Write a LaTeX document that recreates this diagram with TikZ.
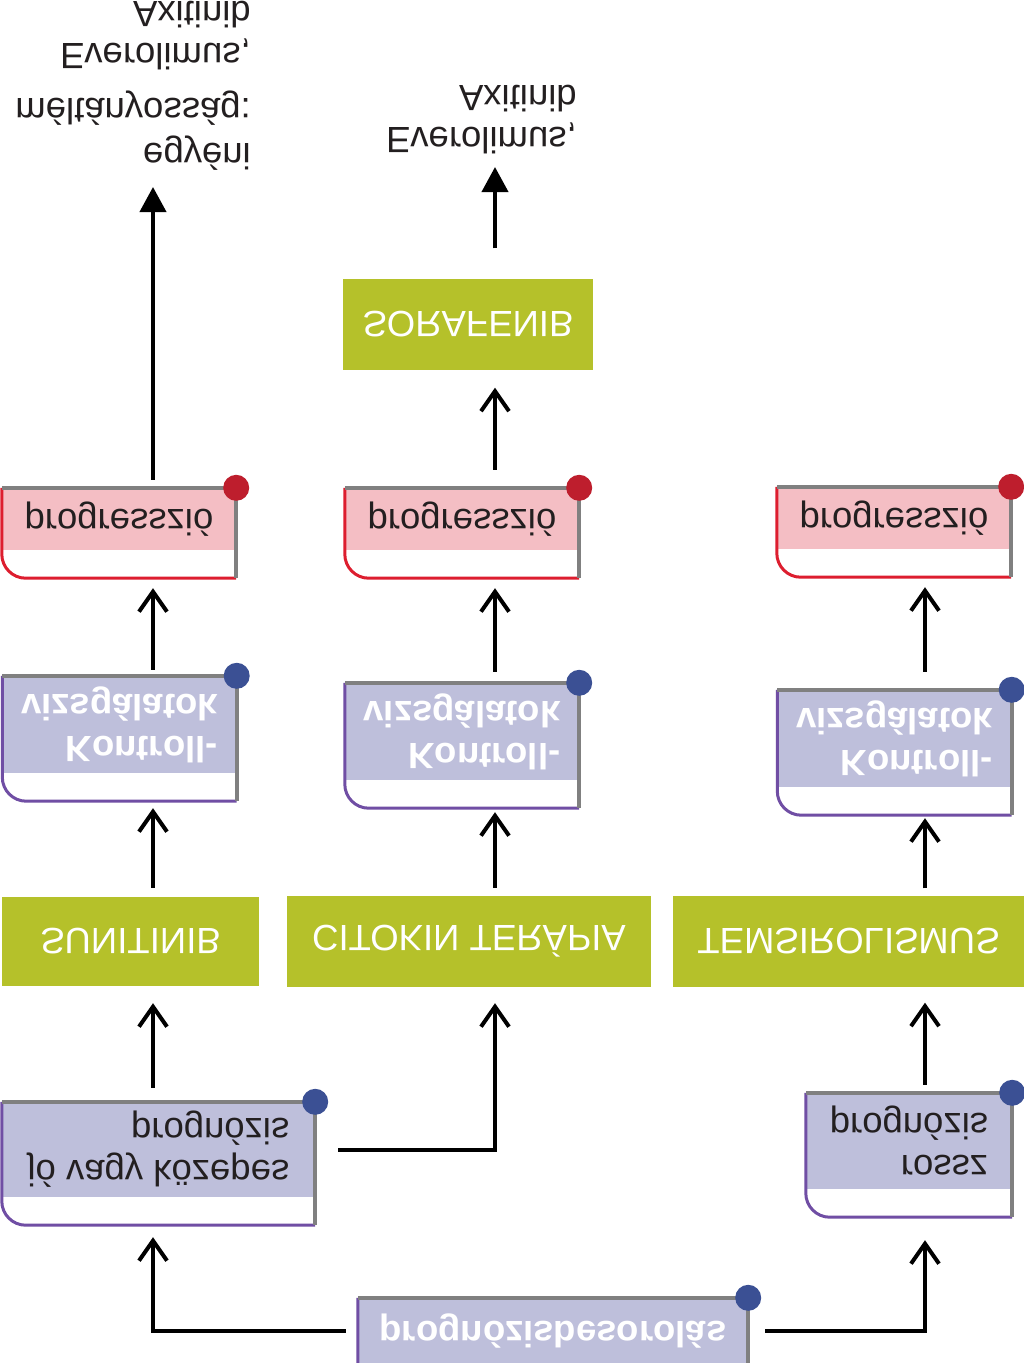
\documentclass[tikz,border=0pt]{standalone}
\usepackage{fontspec}
\setmainfont{Liberation Sans}
\usetikzlibrary{arrows.meta,calc}

\definecolor{drugfill}{RGB}{181,193,42}
\definecolor{tabpink}{RGB}{244,190,196}
\definecolor{tablav}{RGB}{190,191,219}
\definecolor{lred}{RGB}{221,30,47}
\definecolor{lviolet}{RGB}{112,78,164}
\definecolor{dred}{RGB}{190,30,45}
\definecolor{dblue}{RGB}{59,80,148}
\definecolor{shadegray}{RGB}{128,128,128}
\definecolor{ink}{RGB}{35,31,32}

\begin{document}
\begin{tikzpicture}[
  x=1pt, y=1pt, yscale=-1, transform shape,
  every node/.style={font=\fontsize{36.5}{42}\selectfont, inner sep=0pt, text=ink},
  drug/.style={fill=drugfill, text=white, minimum height=91pt},
  tab/.style={align=right, minimum width=234pt},
  progtab/.style={tab, fill=tabpink, minimum height=62pt},
  ctrltab/.style={tab, fill=tablav, text=white, minimum height=97pt,
    font=\fontsize{36.5}{42}\selectfont\bfseries},
  progntab/.style={tab, fill=tablav},
  note/.style={align=right, anchor=north east},
  arr/.style={line width=4pt, -{Straight Barb[length=20pt, width=28pt]}},
  lead/.style={line width=4pt, -{Triangle[length=25pt, width=26pt]}},
  edge/.style={line width=3pt, rounded corners=24pt},
  shade/.style={line width=4pt, shadegray}
]
\useasboundingbox (0,0) rectangle (1024,1363);
\fill[white] (0,0) rectangle (1024,1363);
\clip (0,0) rectangle (1024,1363);

\coordinate (colA) at (153,0);
\coordinate (colB) at (495,0);
\coordinate (colC) at (925,0);

\node[progntab, minimum width=390pt, minimum height=65pt, text=white,
  font=\fontsize{36.5}{42}\selectfont\bfseries] (start) at (553,1330.5) {prognózisbesorolás};
\node[progntab, minimum width=313pt, minimum height=95pt] (good) at (158.5,1149.5) {jó vagy közepes\\prognózis};
\node[progntab, minimum width=206pt, minimum height=96pt] (bad) at (909,1141) {rossz\\prognózis};

\node[drug, minimum width=257pt, minimum height=89pt] (sun) at (130.5,941.5) {SUNITINIB};
\node[drug, minimum width=364pt] (cit) at (469,941.5) {CITOKIN TERÁPIA};
\node[drug, minimum width=351pt] (tem) at (848.5,941) {TEMSIROLISMUS};

\node[ctrltab] (k1) at (119.5,724.5) {Kontroll-\\vizsgálatok};
\node[ctrltab] (k2) at (462,731.5) {Kontroll-\\vizsgálatok};
\node[ctrltab] (k3) at (894.5,738.5) {Kontroll-\\vizsgálatok};

\node[progtab] (p1) at (119,519) {progresszió};
\node[progtab] (p2) at (462,519) {progresszió};
\node[progtab] (p3) at (894,518) {progresszió};

\node[drug, minimum width=250pt] (sor) at (468,324) {SORAFENIB};

\node[note] (indiv) at (251,171) {egyéni\\[3pt]méltányosság:\\[13pt]Everolimus,\\Axitinib};
\node[note] (later) at (577,154) {Everolimus,\\Axitinib};

\foreach \n/\ec/\dc in {start/lviolet/dblue, good/lviolet/dblue, bad/lviolet/dblue,
    k1/lviolet/dblue, k2/lviolet/dblue, k3/lviolet/dblue,
    p1/lred/dred, p2/lred/dred, p3/lred/dred} {
  \draw[edge, \ec] (\n.south west) |- ($(\n.north east)+(0,28)$);
  \draw[shade] (\n.south west) -- (\n.south east) -- ($(\n.north east)+(0,28)$);
  \fill[\dc] (\n.south east) circle (13);
}

\draw[arr, shorten <=12pt, shorten >=40pt] (start.west) -| (good.north -| colA);
\draw[arr, shorten <=17pt, shorten >=51pt] (start.east) -| (bad.north -| colC);
\draw[arr, shorten <=14pt, shorten >=17pt] (good.south -| colA) -- (sun.north -| colA);
\draw[arr, shorten <=23pt, shorten >=16pt] (good.east) -| (cit.north -| colB);
\draw[arr, shorten <=8pt, shorten >=16pt] (bad.south -| colC) -- (tem.north -| colC);
\draw[arr, shorten <=9pt, shorten >=35pt] (sun.south -| colA) -- (k1.north -| colA);
\draw[arr, shorten <=8pt, shorten >=32pt] (cit.south -| colB) -- (k2.north -| colB);
\draw[arr, shorten <=7pt, shorten >=31pt] (tem.south -| colC) -- (k3.north -| colC);
\draw[arr, shorten <=6pt, shorten >=38pt] (k1.south -| colA) -- (p1.north -| colA);
\draw[arr, shorten <=11pt, shorten >=38pt] (k2.south -| colB) -- (p2.north -| colB);
\draw[arr, shorten <=18pt, shorten >=38pt] (k3.south -| colC) -- (p3.north -| colC);
\draw[lead, shorten <=8pt, shorten >=16pt] (p1.south -| colA) -- (indiv.north -| colA);
\draw[arr, shorten <=18pt, shorten >=18pt] (p2.south -| colB) -- (sor.north -| colB);
\draw[lead, shorten <=30pt, shorten >=13pt] (sor.south -| colB) -- (later.north -| colB);
\end{tikzpicture}
\end{document}
